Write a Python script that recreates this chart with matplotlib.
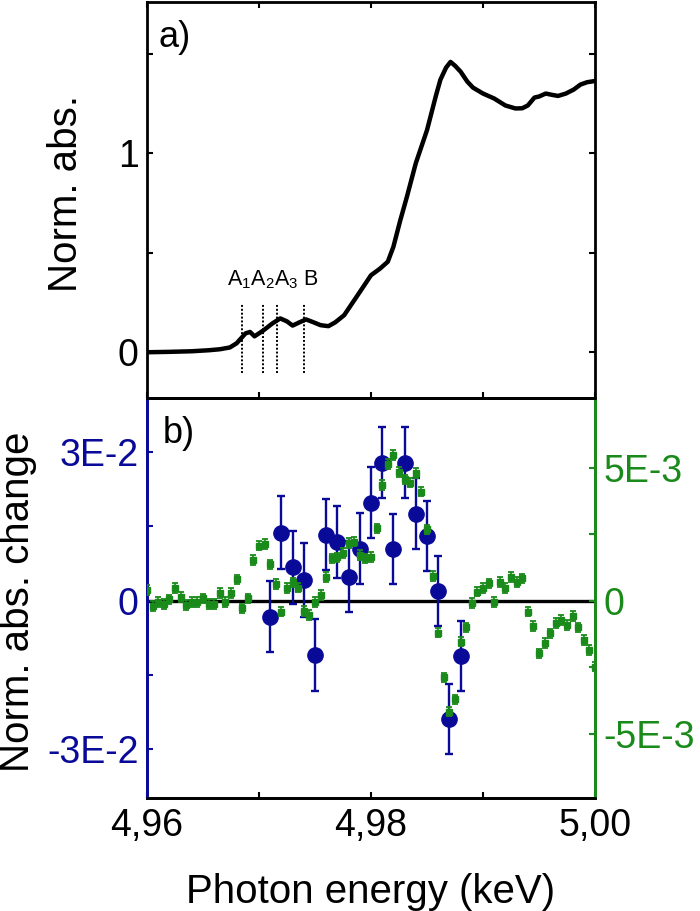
import matplotlib
matplotlib.use('Agg')
import matplotlib.pyplot as plt

plt.rcParams['font.family'] = ['Liberation Sans', 'DejaVu Sans']
plt.rcParams['mathtext.fontset'] = 'custom'
plt.rcParams['mathtext.rm'] = 'Liberation Sans'
plt.rcParams['mathtext.default'] = 'regular'

BLUE = '#0a0a99'
GREEN = '#1a8a1a'

# ---- panel a: normalized absorption (XANES) ----
xanes_E = [4.9600, 4.9620, 4.9640, 4.9655, 4.9665, 4.9674, 4.9680, 4.9684, 4.9688,
           4.9692, 4.9696, 4.9704, 4.9712, 4.9719, 4.9725, 4.9730, 4.9736, 4.9742,
           4.9748, 4.9755, 4.9762, 4.9768, 4.9776, 4.9788, 4.9800, 4.9808, 4.9815,
           4.9820, 4.9826, 4.9832, 4.9840, 4.9850, 4.9858, 4.9862, 4.9867, 4.9871,
           4.9875, 4.9880, 4.9886, 4.9891, 4.9900, 4.9910, 4.9920, 4.9929, 4.9935,
           4.9940, 4.9946, 4.9950, 4.9956, 4.9962, 4.9967, 4.9974, 4.9981, 4.9987,
           4.9993, 5.0000]
xanes_abs = [0.000, 0.002, 0.005, 0.010, 0.015, 0.024, 0.045, 0.070, 0.095,
             0.102, 0.080, 0.110, 0.145, 0.170, 0.155, 0.134, 0.150, 0.165,
             0.152, 0.136, 0.131, 0.150, 0.186, 0.286, 0.387, 0.420, 0.455,
             0.530, 0.660, 0.780, 0.950, 1.116, 1.290, 1.370, 1.430, 1.459,
             1.440, 1.410, 1.360, 1.330, 1.300, 1.275, 1.240, 1.225, 1.226,
             1.240, 1.280, 1.285, 1.300, 1.293, 1.288, 1.300, 1.320, 1.345,
             1.357, 1.363]
marker_E = [4.9685, 4.9704, 4.9716, 4.9740]
marker_text = 'A$_1$A$_2$A$_3$ B'

# ---- panel b: blue (left axis) ----
blue_E = [4.971, 4.972, 4.973, 4.974, 4.975, 4.976, 4.977, 4.978, 4.979,
          4.980, 4.981, 4.982, 4.983, 4.984, 4.985, 4.986, 4.987, 4.988]
blue_val = [-0.00323, 0.01377, 0.00672, 0.00417, -0.01095, 0.01337, 0.01189, 0.00484, 0.01055,
            0.01982, 0.02788, 0.01041, 0.02788, 0.01760, 0.01310, 0.00195, -0.02385, -0.01109]
blue_err = [0.0072, 0.0074, 0.0073, 0.0074, 0.0072, 0.0071, 0.0072, 0.0072, 0.0072,
            0.0072, 0.0071, 0.0071, 0.0071, 0.0071, 0.0071, 0.0071, 0.0070, 0.0071]

# ---- panel b: green (right axis) ----
green_E = [4.9600, 4.9605, 4.9610, 4.9615, 4.9620, 4.9625, 4.9630, 4.9635, 4.9640, 4.9645,
           4.9650, 4.9655, 4.9660, 4.9665, 4.9670, 4.9675, 4.9680, 4.9685, 4.9690, 4.9695,
           4.9700, 4.9705, 4.9710, 4.9715, 4.9720, 4.9725, 4.9730, 4.9735, 4.9740, 4.9745,
           4.9750, 4.9755, 4.9760, 4.9765, 4.9770, 4.9775, 4.9780, 4.9785, 4.9790, 4.9795,
           4.9800, 4.9805, 4.9810, 4.9815, 4.9820, 4.9825, 4.9830, 4.9835, 4.9840, 4.9845,
           4.9850, 4.9855, 4.9860, 4.9865, 4.9870, 4.9875, 4.9880, 4.9885, 4.9890, 4.9895,
           4.9900, 4.9905, 4.9910, 4.9915, 4.9920, 4.9925, 4.9930, 4.9935, 4.9940, 4.9945,
           4.9950, 4.9955, 4.9960, 4.9965, 4.9970, 4.9975, 4.9980, 4.9985, 4.9990, 4.9995,
           5.0000]
green_val = [0.00040, -0.00019, -0.00004, -0.00012, 0.00005, 0.00047, 0.00013, -0.00016, -0.00004, -0.00004,
             0.00009, -0.00012, -0.00012, 0.00028, -0.00004, 0.00028, 0.00080, -0.00029, 0.00009, 0.00153,
             0.00207, 0.00213, 0.00137, 0.00063, -0.00041, 0.00047, 0.00069, 0.00049, -0.00038, -0.00054,
             -0.00004, 0.00021, 0.00090, 0.00159, 0.00163, 0.00180, 0.00218, 0.00222, 0.00172, 0.00159,
             0.00165, 0.00272, 0.00435, 0.00514, 0.00548, 0.00485, 0.00456, 0.00444, 0.00481, 0.00410,
             0.00268, 0.00093, -0.00120, -0.00288, -0.00417, -0.00371, -0.00154, -0.00100, -0.00008, 0.00034,
             0.00047, 0.00065, -0.00004, 0.00071, 0.00047, 0.00090, 0.00071, 0.00084, -0.00041, -0.00095,
             -0.00198, -0.00160, -0.00123, -0.00083, -0.00073, -0.00091, -0.00058, -0.00100, -0.00148, -0.00185,
             -0.00248]
green_err = [0.00018] * len(green_val)

x_ticks = [4.96, 4.97, 4.98, 4.99, 5.00]
x_ticklabels = ['4,96', '', '4,98', '', '5,00']
a_yticks = [0, 0.5, 1, 1.5]
a_yticklabels = ['0', '', '1', '']
b_left_ticks = [-0.03, -0.015, 0, 0.015, 0.03]
b_left_labels = ['-3E-2', '', '0', '', '3E-2']
b_right_ticks = [-0.005, -0.0025, 0, 0.0025, 0.005]
b_right_labels = ['-5E-3', '', '0', '', '5E-3']

TICKFS = 27
LABELFS = 29

fig = plt.figure(figsize=(7, 9.11), dpi=100)
ax_a = fig.add_axes([0.21, 0.5631, 0.64, 0.4347])
ax_b = fig.add_axes([0.21, 0.124, 0.64, 0.439])

# panel a
ax_a.plot(xanes_E, xanes_abs, color='black', lw=3.2, solid_joinstyle='round',
          solid_capstyle='round')
for e in marker_E:
    ax_a.plot([e, e], [-0.104, 0.241], color='black', lw=1.4, ls=(0, (1, 1)))
ax_a.text(4.96711, 0.337, marker_text, fontsize=15.5, ha='left', va='baseline')
ax_a.text(0.025, 0.955, 'a)', transform=ax_a.transAxes, fontsize=26, ha='left', va='top')
ax_a.set_xlim(4.96, 5.00)
ax_a.set_ylim(-0.23, 1.76)
ax_a.set_xticks(x_ticks)
ax_a.set_xticklabels([])
ax_a.set_yticks(a_yticks)
ax_a.set_yticklabels(a_yticklabels)
ax_a.tick_params(axis='both', direction='in', length=4, width=1.5, labelsize=TICKFS,
                 top=True, right=True, pad=6)
for s in ax_a.spines.values():
    s.set_linewidth(2)

# panel b
ax_b.axhline(0, color='black', lw=2.4, zorder=1)
ax_b.errorbar(blue_E, blue_val, yerr=blue_err, fmt='o', color=BLUE, ms=11,
              elinewidth=1.7, capsize=2.8, capthick=1.7, zorder=3)
ax_b.set_xlim(4.96, 5.00)
ax_b.set_ylim(-0.0398, 0.0409)
ax_b.set_xticks(x_ticks)
ax_b.set_xticklabels(x_ticklabels)
ax_b.set_yticks(b_left_ticks)
ax_b.set_yticklabels(b_left_labels)
ax_b.tick_params(axis='x', direction='in', length=4, width=1.5, labelsize=TICKFS, pad=7)
ax_b.tick_params(axis='y', direction='in', length=4, width=1.5, labelsize=TICKFS,
                 colors=BLUE, pad=6)
ax_b.set_xlabel('Photon energy (keV)', fontsize=LABELFS, labelpad=21)
ax_b.text(0.035, 0.955, 'b)', transform=ax_b.transAxes, fontsize=26, ha='left', va='top')

ax_g = ax_b.twinx()
ax_g.errorbar(green_E, green_val, yerr=green_err, fmt='s', color=GREEN, ms=5,
              elinewidth=1.2, capsize=2.0, capthick=1.3, zorder=4)
ax_g.set_ylim(-0.00742, 0.00762)
ax_g.set_yticks(b_right_ticks)
ax_g.set_yticklabels(b_right_labels)
ax_g.tick_params(axis='y', direction='in', length=4, width=1.5, labelsize=TICKFS,
                 colors=GREEN, pad=6)

for ax in (ax_b, ax_g):
    for s in ax.spines.values():
        s.set_linewidth(2)
    ax.spines['left'].set_color(BLUE)
    ax.spines['right'].set_color(GREEN)

fig.text(66 / 700, 1 - 193 / 911, 'Norm. abs.', rotation=90, fontsize=LABELFS,
         ha='center', va='center')
fig.text(18 / 700, 1 - 602 / 911, 'Norm. abs. change', rotation=90, fontsize=LABELFS,
         ha='center', va='center')

fig.savefig('out.png', dpi=100)
